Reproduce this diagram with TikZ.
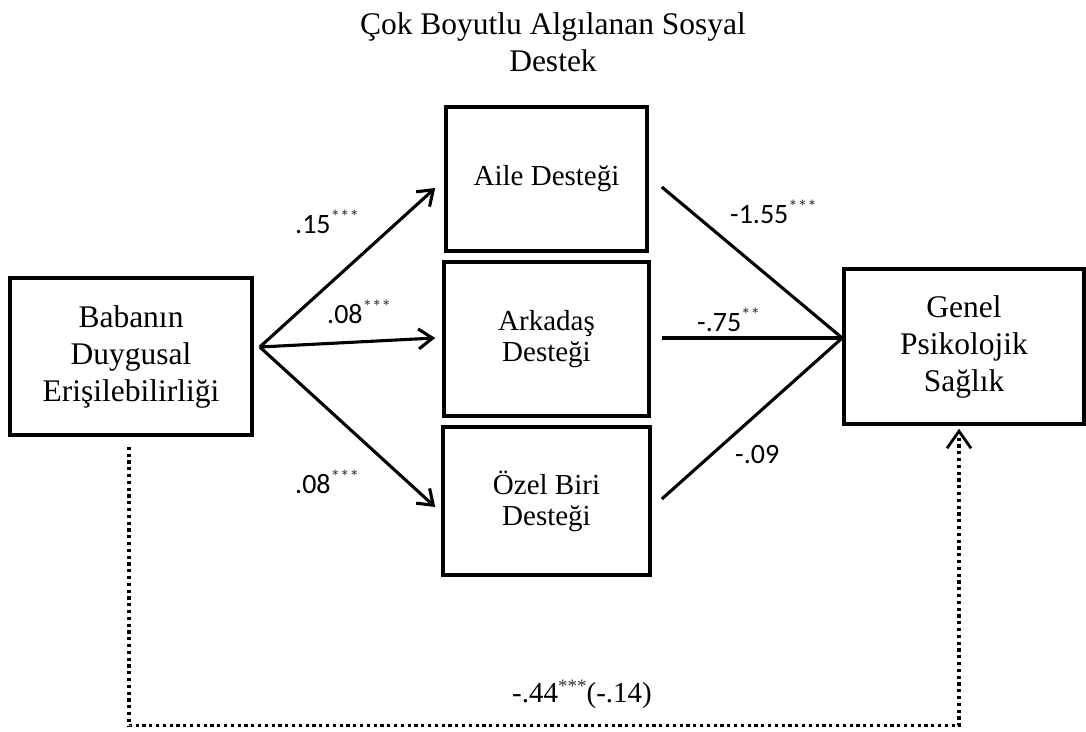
\documentclass[tikz,border=0pt]{standalone}
\usepackage{fontspec}
\setmainfont{Liberation Serif}
\newfontfamily\calfont{Carlito}
\usetikzlibrary{arrows.meta,calc}
\newcommand\starsup[1]{\raisebox{10pt}{\fontsize{19}{19}\selectfont\color{black!80}#1}}
\begin{document}
\begin{tikzpicture}[x=1pt,y=-1pt,
  box/.style={draw, line width=3.6pt, inner sep=0pt, align=center},
  bigtxt/.style={font=\fontsize{31.5}{37}\selectfont},
  midtxt/.style={font=\fontsize{29}{31}\selectfont},
  arr/.style={line width=3.1pt, -{Straight Barb[length=14pt,width=20pt,line width=3.1pt]}},
  ln/.style={line width=3.1pt},
  coef/.style={font=\calfont\fontsize{28}{30}\selectfont, anchor=base west, inner sep=0pt},
  dotarr/.style={line width=3.2pt, dash pattern=on 3.2pt off 3.6pt, -{Straight Barb[length=17pt,width=24pt,line width=2.8pt]}}
]
\useasboundingbox (0,0) rectangle (1086,731);

\node[bigtxt, align=center, inner sep=0pt] (title) at (553,42.5) {Çok Boyutlu Algılanan Sosyal\\Destek};

\node[box, bigtxt, minimum width=242pt, minimum height=157pt] (bab) at (131,356.5) {Babanın\\Duygusal\\Erişilebilirliği};
\node[box, midtxt, minimum width=201pt, minimum height=144pt] (aile) at (546.5,179) {Aile Desteği};
\node[box, midtxt, minimum width=205pt, minimum height=154pt] (ark) at (546.5,339) {Arkadaş\\Desteği};
\node[box, midtxt, minimum width=207pt, minimum height=148pt] (oz) at (546.5,501) {Özel Biri\\Desteği};
\node[box, bigtxt, minimum width=240pt, minimum height=155pt] (gen) at (964,346.5) {Genel\\Psikolojik\\Sağlık};

\coordinate (s) at ($(bab.east)+(6,-9.5)$);
\draw[arr] (s) -- ($(aile.west)+(-9,9)$);
\draw[arr] (s) -- ($(ark.west)+(-7,-1)$);
\draw[arr] (s) -- ($(oz.west)+(-6,6)$);

\coordinate (c) at ($(gen.west)+(0,-8.5)$);
\draw[ln] ($(aile.east)+(13,8)$) -- (c);
\draw[ln] ($(ark.east)+(11,-1)$) -- (c);
\draw[ln] ($(oz.east)+(10,-2)$) -- (c);

\draw[dotarr] ($(bab.south)+(-2,10)$) -- ++(0,279) -| ($(gen.south)+(-5,3)$);

\node[coef] (l1) at (295,233) {.15\starsup{***}};
\node[coef] (l2) at (327,323) {.08\starsup{***}};
\node[coef] (l3) at (295,493) {.08\starsup{***}};
\node[coef] (r1) at (730,223) {-1.55\starsup{***}};
\node[coef] (r2) at (697,331) {-.75\starsup{**}};
\node[coef] (r3) at (735,463) {-.09};
\node[anchor=base west, inner sep=0pt, font=\fontsize{29}{30}\selectfont] (direct) at (512,702) {-.44\starsup{***}(-.14)};
\end{tikzpicture}
\end{document}
